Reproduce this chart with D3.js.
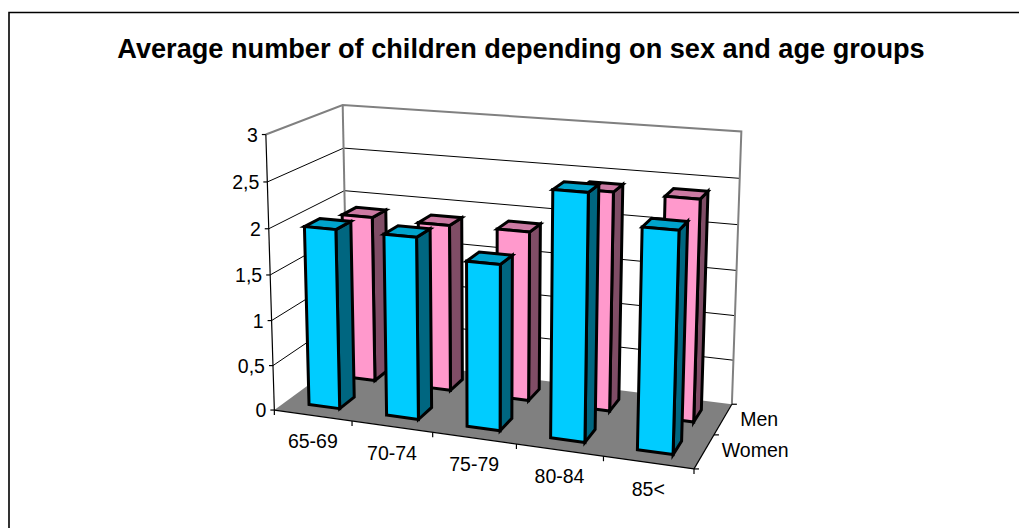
<!DOCTYPE html>
<html>
<head>
<meta charset="utf-8">
<script src="https://cdnjs.cloudflare.com/ajax/libs/d3/7.8.5/d3.min.js"></script>
<style>
  html, body { margin: 0; padding: 0; background: #fff; }
  svg { display: block; }
  text { font-family: "Liberation Sans", Arial, sans-serif; fill: #000; }
</style>
</head>
<body>
<svg id="chart" width="1019" height="528"></svg>
<script>
const chartTitle = "Average number of children depending on sex and age groups";
const ageGroups = ["65-69", "70-74", "75-79", "80-84", "85<"];
const seriesNames = ["Women", "Men"];
const womenValues = [1.98, 1.98, 1.78, 2.6, 2.3];
const menValues = [1.89, 1.88, 1.89, 2.4, 2.4];
const valueTicks = [0, 0.5, 1, 1.5, 2, 2.5, 3];
const valueLabels = ["0", "0,5", "1", "1,5", "2", "2,5", "3"];

const W = 1019, H = 528;
const svg = d3.select("#chart");

// Model space: x = category position 0..5, v = value 0..3, z = series depth 0..2.
const xBand = d3.scaleBand().domain(ageGroups).range([0, 5]).paddingInner(0).paddingOuter(0);
const zBand = d3.scaleBand().domain(seriesNames).range([0, 2]);
const gapFraction = 0.3; // bar inset within its category and series cell

// Anchors of the perspective box: [x, v, z, screenX, screenY]
const anchors = [
  [0, 0, 0, 276, 407.5], [1, 0, 0, 352.6, 421.7], [2, 0, 0, 432.7, 434],
  [3, 0, 0, 515.7, 445.6], [4, 0, 0, 602, 458], [5, 0, 0, 693, 468],
  [0, 3, 0, 265, 134], [0, 0, 2, 346, 357], [0, 3, 2, 343, 105],
  [5, 3, 2, 742, 132], [5, 0, 2, 732, 403], [5, 0, 1, 716.7, 433],
  [0, 2, 0, 269, 228], [5, 2, 2, 737, 225], [0, 2, 2, 345, 191]
];

// Fit the 3x4 camera matrix by least squares over the anchors (m34 fixed to 1).
function fitCamera(points) {
  const rows = [], rhs = [];
  points.forEach(([x, v, z, u, w]) => {
    rows.push([x, v, z, 1, 0, 0, 0, 0, -u * x, -u * v, -u * z]); rhs.push(u);
    rows.push([0, 0, 0, 0, x, v, z, 1, -w * x, -w * v, -w * z]); rhs.push(w);
  });
  const n = 11;
  const A = d3.range(n).map(i => d3.range(n + 1).map(j =>
    j < n ? d3.sum(rows, r => r[i] * r[j]) : d3.sum(rows, (r, k) => r[i] * rhs[k])));
  for (let c = 0; c < n; c++) {
    let p = c;
    for (let r = c + 1; r < n; r++) if (Math.abs(A[r][c]) > Math.abs(A[p][c])) p = r;
    [A[c], A[p]] = [A[p], A[c]];
    for (let r = 0; r < n; r++) {
      if (r === c) continue;
      const f = A[r][c] / A[c][c];
      for (let k = c; k <= n; k++) A[r][k] -= f * A[c][k];
    }
  }
  return d3.range(n).map(i => A[i][n] / A[i][i]);
}
const cam = fitCamera(anchors);
function project(x, v, z) {
  const d = cam[8] * x + cam[9] * v + cam[10] * z + 1;
  return [
    (cam[0] * x + cam[1] * v + cam[2] * z + cam[3]) / d,
    (cam[4] * x + cam[5] * v + cam[6] * z + cam[7]) / d
  ];
}
const poly = pts => "M" + pts.map(p => project(...p).map(n => n.toFixed(2)).join(",")).join("L") + "Z";
const seg = (a, b) => "M" + project(...a).join(",") + "L" + project(...b).join(",");

// Chart-area border: only the top and left edges fall inside the frame
svg.append("path").attr("d", `M9,${H}L9,12.5L${W},12.5`)
  .attr("fill", "none").attr("stroke", "#000").attr("stroke-width", 1.6);

svg.append("text").attr("x", 521).attr("y", 57.5).attr("text-anchor", "middle")
  .attr("font-size", 27.15).attr("font-weight", "bold").text(chartTitle);

const vMax = d3.max(valueTicks);
const g = svg.append("g");

// Floor
g.append("path").attr("d", poly([[0, 0, 0], [5, 0, 0], [5, 0, 2], [0, 0, 2]])).attr("fill", "#808080");

// Gridlines on the left and back walls
valueTicks.filter(v => v > 0 && v < vMax).forEach(v => {
  g.append("path").attr("d", seg([0, v, 0], [0, v, 2])).attr("stroke", "#000").attr("stroke-width", 1).attr("fill", "none");
  g.append("path").attr("d", seg([0, v, 2], [5, v, 2])).attr("stroke", "#000").attr("stroke-width", 1).attr("fill", "none");
});

// Wall outline
g.append("path")
  .attr("d", "M" + [[0, vMax, 0], [0, vMax, 2], [5, vMax, 2], [5, 0, 2]].map(p => project(...p).join(",")).join("L"))
  .attr("fill", "none").attr("stroke", "#808080").attr("stroke-width", 2);
g.append("path").attr("d", seg([0, 0, 2], [0, vMax, 2])).attr("stroke", "#808080").attr("stroke-width", 2);

// Axes and tick marks
const axisStroke = sel => sel.attr("stroke", "#000").attr("stroke-width", 1.2).attr("fill", "none");
g.append("path").attr("d", seg([0, 0, 0], [0, vMax, 0])).call(axisStroke);
g.append("path").attr("d", seg([0, 0, 0], [5, 0, 0])).call(axisStroke);
g.append("path").attr("d", seg([5, 0, 0], [5, 0, 2])).call(axisStroke);

const labelSize = 19.5;
valueTicks.forEach((v, i) => {
  const [px, py] = project(0, v, 0);
  g.append("line").attr("x1", px - 4).attr("y1", py).attr("x2", px).attr("y2", py).call(axisStroke);
  g.append("text").attr("x", px - 8).attr("y", py + 7).attr("text-anchor", "end").attr("font-size", labelSize).text(valueLabels[i]);
});
d3.range(ageGroups.length + 1).forEach(i => {
  const [px, py] = project(i, 0, 0);
  g.append("line").attr("x1", px).attr("y1", py).attr("x2", px).attr("y2", py + 5).call(axisStroke);
});
ageGroups.forEach((a, i) => {
  const [cx, cy] = project(i + 0.5, 0, 0);
  g.append("text").attr("x", cx).attr("y", cy + 33).attr("text-anchor", "middle").attr("font-size", labelSize).text(a);
});
d3.range(0, 3).forEach(k => {
  const [px, py] = project(5, 0, k);
  g.append("line").attr("x1", px).attr("y1", py).attr("x2", px + 5).attr("y2", py).call(axisStroke);
});
seriesNames.forEach((s, k) => {
  const [px, py] = project(5, 0, k + 0.5);
  g.append("text").attr("x", px + (k === 0 ? 51 : 36)).attr("y", py + (k === 0 ? 6 : 7)).attr("text-anchor", "middle").attr("font-size", labelSize).text(s);
});

// Bars: far series first, so the near series overlaps it
const barStyles = {
  Women: { front: "#00CCFF", side: "#006680", top: "#00A3CC" },
  Men: { front: "#FF99CC", side: "#804D66", top: "#CC7AA3" }
};
const series = [{ name: "Men", values: menValues }, { name: "Women", values: womenValues }];
series.forEach(s => {
  const zs = zBand(s.name), zw = zBand.bandwidth();
  const z0 = zs + zw * gapFraction, z1 = zs + zw * (1 - gapFraction);
  s.values.forEach((val, i) => {
    const xs = xBand(ageGroups[i]), xw = xBand.bandwidth();
    const x0 = xs + xw * gapFraction, x1 = xs + xw * (1 - gapFraction);
    const st = barStyles[s.name];
    const bar = g.append("g").attr("stroke", "#000").attr("stroke-width", 3).attr("stroke-linejoin", "miter");
    bar.append("path").attr("d", poly([[x1, 0, z0], [x1, 0, z1], [x1, val, z1], [x1, val, z0]])).attr("fill", st.side);
    bar.append("path").attr("d", poly([[x0, val, z0], [x1, val, z0], [x1, val, z1], [x0, val, z1]])).attr("fill", st.top);
    bar.append("path").attr("d", poly([[x0, 0, z0], [x1, 0, z0], [x1, val, z0], [x0, val, z0]])).attr("fill", st.front);
  });
});
</script>
</body>
</html>
